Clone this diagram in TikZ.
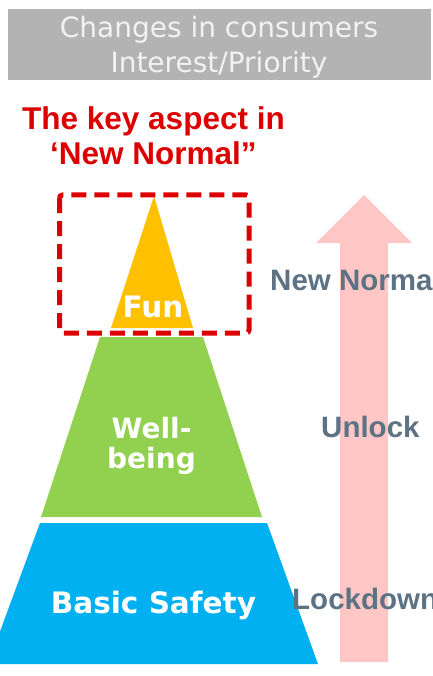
\documentclass[tikz,border=0pt]{standalone}
\usepackage{fontspec}
\setmainfont{Liberation Sans}
\newfontfamily\meiryo{DejaVu Sans}
\usetikzlibrary{positioning}

\definecolor{hdrgray}{HTML}{B3B3B3}
\definecolor{keyred}{HTML}{DD0000}
\definecolor{funyellow}{HTML}{FFC000}
\definecolor{wellgreen}{HTML}{92D050}
\definecolor{safeblue}{HTML}{00B0F0}
\definecolor{arrowpink}{HTML}{FFC6C6}
\definecolor{slate}{HTML}{5D7384}

\begin{document}
\begin{tikzpicture}[x=1pt,y=-1pt,
    hdr/.style={font=\meiryo\fontsize{28}{32}\selectfont,text=white!95!black,anchor=base,inner sep=0pt},
    key/.style={font=\bfseries\fontsize{31.5}{36}\selectfont,text=keyred,anchor=base,inner sep=0pt},
    tier/.style={font=\meiryo\bfseries\fontsize{29.5}{34}\selectfont,text=white,anchor=base,inner sep=0pt},
    stage/.style={font=\bfseries\fontsize{29.5}{33}\selectfont,text=slate,anchor=base west,inner sep=0pt}]
  \useasboundingbox (0,0) rectangle (432,676);
  \clip (0,0) rectangle (432,676);

  \fill[hdrgray] (8,9) rectangle (431,80);                      % header band
  \node[hdr] (hdrtop) at (219,38) {Changes in consumers};
  \node[hdr] (hdrbot) at (219,73) {Interest/Priority};

  \node[key] (keytop) at (153.5,130) {The key aspect in};       % red title
  \node[key] (keybot) at (153.5,165) {‘New Normal”};

  \fill[funyellow] (154,196) -- (193,328) -- (111,328) -- cycle;              % top tier
  \fill[wellgreen] (100,337) -- (203,337) -- (262,517) -- (41,517) -- cycle;  % middle tier
  \fill[safeblue] (40,523) -- (267,523) -- (318,664) -- (-12,664) -- cycle;   % bottom tier

  \draw[keyred,line width=5pt,dash pattern=on 15pt off 8pt,rounded corners=3pt]
    (59.5,195) rectangle (249,333);                             % key aspect frame

  \node[tier] (fun) at (153,317) {Fun};
  \node[tier,font=\meiryo\bfseries\fontsize{28}{32}\selectfont] (well) at (151.5,438) {Well-};
  \node[tier,font=\meiryo\bfseries\fontsize{28}{32}\selectfont] (being) at (151.5,468) {being};
  \node[tier] (safety) at (153.5,613) {Basic Safety};

  % upward arrow
  \fill[arrowpink] (340,662) -- (340,243) -- (316,243) -- (364,195)
    -- (412,243) -- (388,243) -- (388,662) -- cycle;

  \node[stage] (newnormal) at (270,290) {New Normal};
  \node[stage] (unlock) at (321,437) {Unlock};
  \node[stage] (lockdown) at (292,609) {Lockdown};

\end{tikzpicture}
\end{document}
